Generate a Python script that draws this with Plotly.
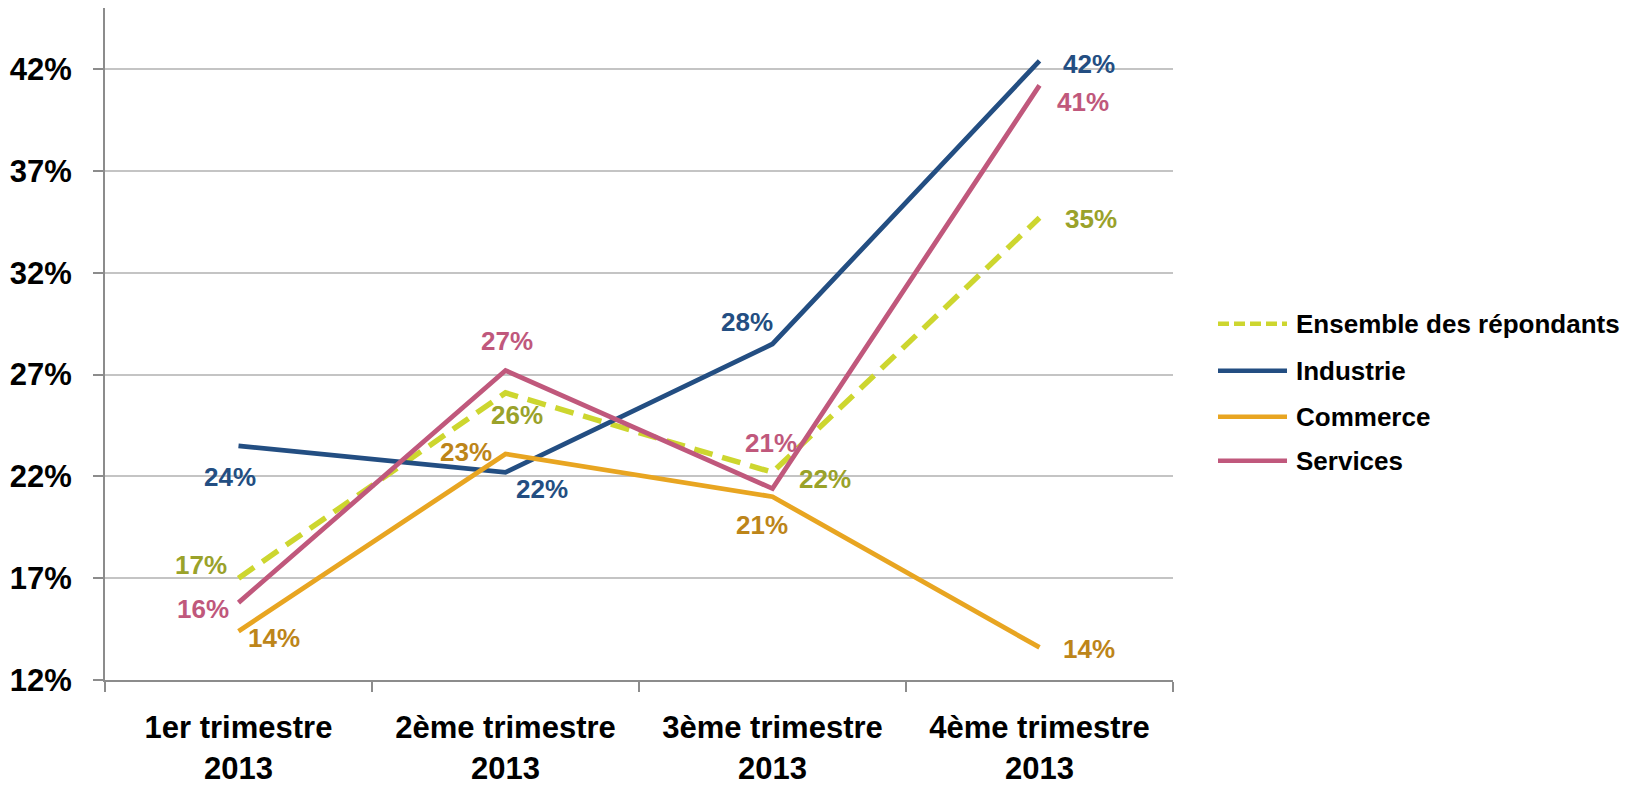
import plotly.graph_objects as go

# ---- data ----
categories = ["1er trimestre<br>2013", "2ème trimestre<br>2013",
              "3ème trimestre<br>2013", "4ème trimestre<br>2013"]
ensemble = [0.170, 0.261, 0.222, 0.347]
industrie = [0.235, 0.222, 0.285, 0.424]
commerce = [0.144, 0.231, 0.210, 0.136]
services = [0.158, 0.272, 0.214, 0.412]

ensemble_labels = ["17%", "26%", "22%", "35%"]
industrie_labels = ["24%", "22%", "28%", "42%"]
commerce_labels = ["14%", "23%", "21%", "14%"]
services_labels = ["16%", "27%", "21%", "41%"]

y_ticks = [0.12, 0.17, 0.22, 0.27, 0.32, 0.37, 0.42]

# ---- styling / layout constants ----
FONT = "Liberation Sans, Arial, sans-serif"
W, H = 1632, 786
ML, MR, MT, MB = 97, 467, 0, 113.5
PW, PH = W - ML - MR, H - MT - MB

series = [
    dict(name="Ensemble des répondants", y=ensemble, labels=ensemble_labels,
         color="#CDD62F", lcolor="#9AA22A", dash="19px,10px", width=5.5,
         legdash="11px,5px", legy=316,
         offs=[(-38, -13), (11, 22), (52, 7), (51, 1)]),
    dict(name="Industrie", y=industrie, labels=industrie_labels,
         color="#234E82", lcolor="#234E82", dash="solid", width=4.8,
         legdash="solid", legy=363,
         offs=[(-9, 31), (36, 17), (-26, -22), (49, 3)]),
    dict(name="Commerce", y=commerce, labels=commerce_labels,
         color="#E8A521", lcolor="#BD8519", dash="solid", width=4.8,
         legdash="solid", legy=409,
         offs=[(35, 7), (-40, -2), (-11, 28), (49, 2)]),
    dict(name="Services", y=services, labels=services_labels,
         color="#C0587C", lcolor="#C0587C", dash="solid", width=4.8,
         legdash="solid", legy=453,
         offs=[(-36, 6), (1, -29), (-2, -46), (43, 17)]),
]


def px_to_paper_x(px):
    return (px - ML) / PW


def px_to_paper_y(py):
    return (H - MB - py) / PH


fig = go.Figure()
annotations = []
shapes = []
for k, s in enumerate(series):
    fig.add_trace(go.Scatter(
        x=categories, y=s["y"], mode="lines", name=s["name"],
        line=dict(color=s["color"], width=s["width"], dash=s["dash"]),
        hoverinfo="skip", showlegend=False,
    ))
    for i, (c, v) in enumerate(zip(categories, s["y"])):
        dx, dy = s["offs"][i]
        annotations.append(dict(
            x=c, y=v, xref="x", yref="y", text=s["labels"][i], showarrow=False,
            xshift=dx, yshift=-dy,
            font=dict(family=FONT, size=26, color=s["lcolor"], weight="bold"),
        ))
    # legend entry (sample line + label)
    ly = px_to_paper_y(s["legy"])
    shapes.append(dict(
        type="line", xref="paper", yref="paper",
        x0=px_to_paper_x(1210), x1=px_to_paper_x(1279), y0=ly, y1=ly,
        line=dict(color=s["color"], width=4.5, dash=s["legdash"]),
    ))
    annotations.append(dict(
        x=px_to_paper_x(1286), y=ly, xref="paper", yref="paper",
        xanchor="left", yanchor="middle", text=s["name"], showarrow=False,
        font=dict(family=FONT, size=26, color="black", weight="bold"),
    ))

fig.update_layout(
    width=W, height=H,
    margin=dict(l=ML, r=MR, t=MT, b=MB, autoexpand=False),
    paper_bgcolor="white", plot_bgcolor="white",
    font=dict(family=FONT, color="black"),
    annotations=annotations,
    shapes=shapes,
    showlegend=False,
    xaxis=dict(
        type="category", tickson="boundaries", ticks="outside", ticklen=10,
        tickcolor="#8C8C8C", tickwidth=2, automargin=False,
        showline=True, linecolor="#8C8C8C", linewidth=2,
        showgrid=False, range=[-0.5, 3.5],
        tickfont=dict(family=FONT, size=31, color="black", weight="bold"),
        ticklabelstandoff=19,
    ),
    yaxis=dict(
        range=[0.12, 0.45], tickvals=y_ticks, tickformat=".0%",
        ticks="outside", ticklen=10, tickcolor="#8C8C8C", tickwidth=2,
        automargin=False, ticklabelstandoff=15,
        showline=True, linecolor="#8C8C8C", linewidth=2,
        showgrid=True, gridcolor="#C4C4C4", gridwidth=1.5,
        zeroline=False,
        tickfont=dict(family=FONT, size=31, color="black", weight="bold"),
    ),
)

fig.write_html("out.html")
